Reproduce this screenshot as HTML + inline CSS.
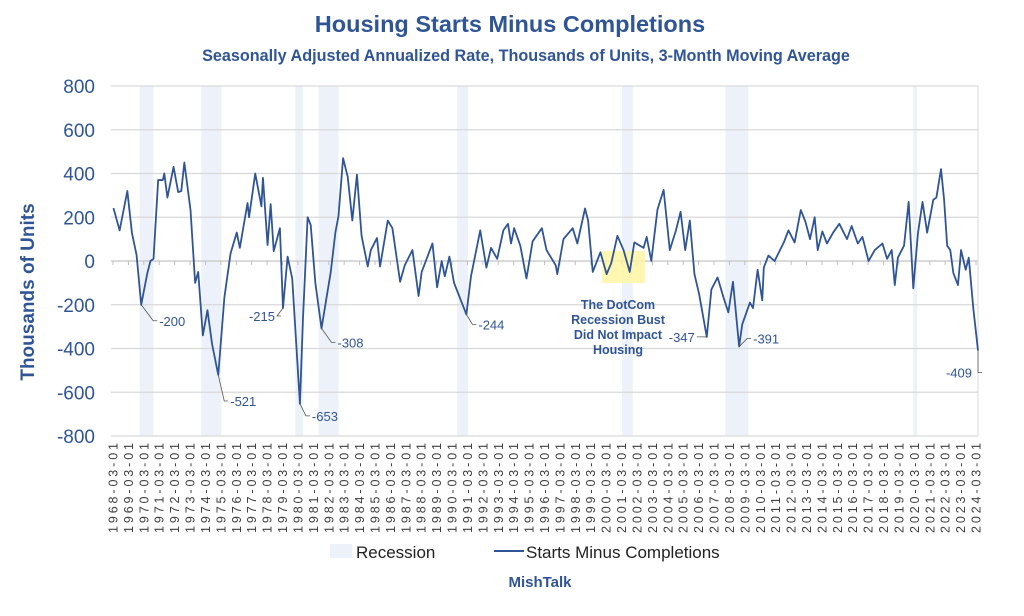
<!DOCTYPE html>
<html><head><meta charset="utf-8"><style>
body{margin:0;background:#fff;}
svg{display:block;font-family:"Liberation Sans",sans-serif;}
</style></head><body>
<svg id="chart" width="1024" height="616">
<text x="510" y="32" text-anchor="middle" font-size="23.5" font-weight="bold" fill="#2f5597">Housing Starts Minus Completions</text>
<text x="526" y="61" text-anchor="middle" font-size="16.2" font-weight="bold" fill="#2f5597">Seasonally Adjusted Annualized Rate, Thousands of Units, 3-Month Moving Average</text>
<text transform="translate(34,292) rotate(-90)" text-anchor="middle" font-size="19" font-weight="bold" fill="#2f5597">Thousands of Units</text>
<g id="rec"></g><g id="grid"></g><g id="yticks"></g><g id="xaxis"></g>
<rect x="602" y="251" width="43" height="32" fill="#fff59d" opacity="0.8"/>
<g id="series"></g><g id="ann"></g>
<g font-size="12.5" font-weight="bold" fill="#2f5597" text-anchor="middle">
<text x="618" y="309">The DotCom</text><text x="618" y="324">Recession Bust</text><text x="618" y="339">Did Not Impact</text><text x="618" y="354">Housing</text></g>
<rect x="330" y="544" width="22" height="14" fill="#edf2fa"/>
<text x="356" y="558" font-size="17" fill="#222">Recession</text>
<line x1="494" y1="551" x2="524" y2="551" stroke="#2f5597" stroke-width="2"/>
<text x="526" y="558" font-size="17" fill="#222">Starts Minus Completions</text>
<text x="540" y="587" text-anchor="middle" font-size="15" font-weight="bold" fill="#2f5597">MishTalk</text>
</svg>
<script>
const dates=[1968.2,1968.6,1969.1,1969.4,1969.7,1970.0,1970.4,1970.6,1970.8,1971.1,1971.4,1971.5,1971.7,1972.1,1972.4,1972.6,1972.8,1973.2,1973.5,1973.7,1974.0,1974.3,1974.6,1975.0,1975.4,1975.8,1976.2,1976.4,1976.9,1977.0,1977.4,1977.8,1977.9,1978.2,1978.4,1978.6,1979.0,1979.2,1979.5,1979.8,1980.3,1980.5,1980.8,1981.0,1981.3,1981.7,1982.3,1982.6,1982.8,1983.1,1983.4,1983.7,1984.0,1984.3,1984.7,1984.9,1985.3,1985.5,1986.0,1986.3,1986.8,1987.1,1987.6,1988.0,1988.2,1988.9,1989.2,1989.5,1989.7,1990.0,1990.3,1990.8,1991.1,1991.4,1992.0,1992.4,1992.7,1993.1,1993.5,1993.8,1994.0,1994.2,1994.6,1995.0,1995.4,1996.0,1996.3,1996.9,1997.0,1997.4,1998.0,1998.3,1998.8,1999.0,1999.3,1999.8,2000.2,2000.5,2000.9,2001.3,2001.7,2002.0,2002.6,2002.8,2003.1,2003.5,2003.9,2004.3,2004.7,2005.0,2005.3,2005.6,2005.9,2006.2,2006.7,2007.0,2007.4,2007.8,2008.1,2008.4,2008.8,2009.0,2009.5,2009.7,2010.0,2010.3,2010.4,2010.7,2011.1,2011.7,2012.0,2012.4,2012.8,2013.1,2013.4,2013.7,2013.9,2014.2,2014.5,2014.9,2015.3,2015.8,2016.1,2016.5,2016.8,2017.2,2017.6,2018.1,2018.4,2018.7,2018.9,2019.1,2019.5,2019.8,2020.1,2020.4,2020.7,2021.0,2021.4,2021.6,2021.9,2022.1,2022.3,2022.5,2022.7,2023.0,2023.2,2023.5,2023.7,2024.0,2024.3];
const values=[242,140,320,128,27,-200,-55,0,10,370,370,400,290,430,315,320,450,233,-100,-50,-340,-225,-380,-521,-165,35,130,60,265,200,400,250,380,73,260,45,150,-215,20,-80,-653,-260,200,165,-100,-308,-50,130,205,470,385,185,395,115,-25,50,105,-25,185,150,-95,-20,50,-160,-50,80,-120,0,-70,20,-100,-190,-244,-70,140,-30,60,10,140,170,80,150,70,-80,90,150,50,-20,-60,100,150,80,240,185,-50,40,-60,-10,115,50,-50,85,60,110,0,235,325,50,140,225,50,185,-60,-150,-347,-130,-75,-170,-235,-95,-391,-290,-190,-215,-40,-180,-30,25,0,85,140,85,233,180,100,200,50,135,80,130,170,100,160,80,110,0,50,80,10,50,-110,15,70,270,-125,125,270,130,280,290,420,280,70,50,-55,-110,50,-40,15,-220,-409];
const recStart=[1969.9,1973.9,1980.0,1981.5,1990.5,2001.2,2007.9,2020.1];
const recEnd=[1970.8,1975.2,1980.5,1982.8,1991.2,2001.9,2009.4,2020.35];
const yTicks=[800,600,400,200,0,-200,-400,-600,-800];
const annDates=[1970.0,1975.0,1979.2,1980.3,1981.7,1991.1,2006.7,2008.8,2024.3];
const annValues=[-200,-521,-215,-653,-308,-244,-347,-391,-409];
const NS='http://www.w3.org/2000/svg';
const X0=113,X1=976,D0=1968.17,D1=2024.17,Y0=86,Y1=436;
const xs=d=>X0+(d-D0)/(D1-D0)*(X1-X0);
const ys=v=>Y0+(800-v)/1600*(Y1-Y0);
function mk(p,t,a){const e=document.createElementNS(NS,t);for(const k in a)e.setAttribute(k,a[k]);document.getElementById(p).appendChild(e);return e;}
recStart.forEach((s,i)=>{const r=mk('rec','rect',{x:xs(s),y:Y0,width:xs(recEnd[i])-xs(s),height:Y1-Y0,fill:'#edf2fa'});

});
yTicks.forEach(v=>{const l=mk('grid','line',{x1:X0-2,x2:978,y1:ys(v),y2:ys(v),stroke:'#d9d9d9','stroke-width':1.3});


const t=mk('yticks','text',{x:95,y:ys(v)+7,'text-anchor':'end','font-size':19,fill:'#2f5597'});t.textContent=v;

});
mk('xaxis','line',{x1:X0-2,x2:978,y1:ys(0),y2:ys(0),stroke:'#bfbfbf','stroke-width':1});
mk('xaxis','line',{x1:978,x2:978,y1:Y0,y2:Y1,stroke:'#d9d9d9','stroke-width':1});
for(let y=1968;y<=2024;y++){const x=xs(y+0.17);
mk('xaxis','line',{x1:x,x2:x,y1:ys(0),y2:ys(0)+4,stroke:'#bfbfbf'});
const t=mk('xaxis','text',{transform:`translate(${x+4.5},${443}) rotate(-90)`,'text-anchor':'end','font-size':12.5,fill:'#404040',textLength:90,lengthAdjust:'spacing'});
t.textContent=y+'-03-01';

}
const p=mk('series','polyline',{points:dates.map((d,i)=>xs(d)+','+ys(values[i])).join(' '),fill:'none',stroke:'#2f5597','stroke-width':1.8,'stroke-linejoin':'round'});


const offs=[[12,16],[6,26],[-6,8],[6,12],[10,14],[6,10],[-10,0],[8,-8],[0,22]];
annDates.forEach((d,i)=>{const x=xs(d),y=ys(annValues[i]);const [dx,dy]=offs[i];
mk('ann','polyline',{points:`${x},${y} ${x+dx},${y+dy} ${x+dx+4},${y+dy}`,fill:'none',stroke:'#555','stroke-width':0.8});
const left=dx<0;
const t=mk('ann','text',{x:left?x+dx-2:x+dx+6,y:y+dy+5,'text-anchor':left||i==8?'end':'start','font-size':13,fill:'#2f5597'});
if(i==8){t.setAttribute('x',x-6);}
t.textContent=annValues[i];

});
</script>
</body></html>
